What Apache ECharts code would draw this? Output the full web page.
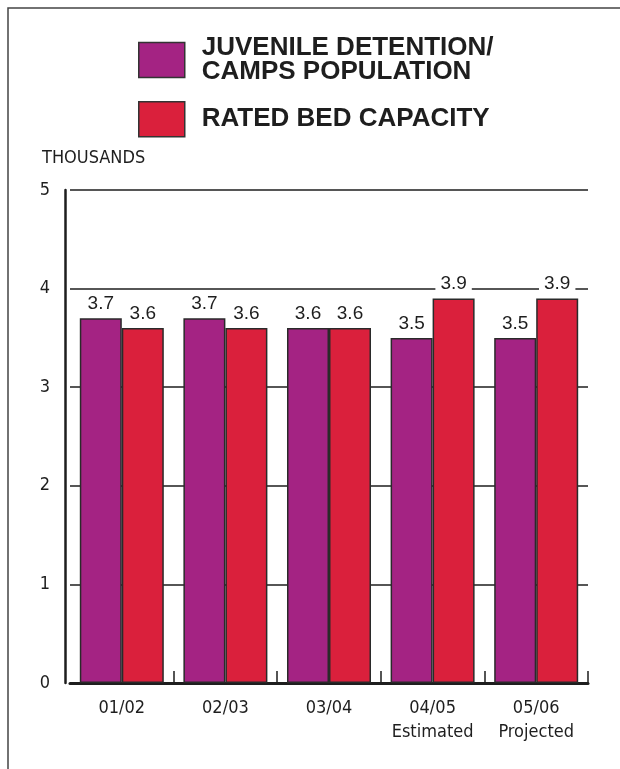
<!DOCTYPE html>
<html>
<head>
<meta charset="utf-8">
<script src="https://cdn.jsdelivr.net/npm/echarts@6/dist/echarts.min.js"></script>
<style>
  html, body { margin: 0; padding: 0; background: #fff; }
  #chart { width: 620px; height: 769px; }
</style>
</head>
<body>
<div id="chart"></div>
<script>
// Fiscal years shown along the bottom axis
const categories = ['01/02', '02/03', '03/04', '04/05\nEstimated', '05/06\nProjected'];
// Values in thousands
const population = [3.7, 3.7, 3.6, 3.5, 3.5];
const bedCapacity = [3.6, 3.6, 3.6, 3.9, 3.9];
const seriesNames = ['JUVENILE DETENTION/\nCAMPS POPULATION', 'RATED BED CAPACITY'];
const yTicks = { min: 0, max: 5, interval: 1 };

const PURPLE = '#a42383';
const RED = '#da203c';
const INK = '#1e1e1e';
const NARROW = '"Liberation Sans Narrow", "Arial Narrow", "DejaVu Sans Condensed", sans-serif';
const SANS = '"Liberation Sans", Arial, Helvetica, sans-serif';

const chart = echarts.init(document.getElementById('chart'), null, { renderer: 'canvas' });

const barLabel = {
  show: true,
  position: 'top',
  distance: 4,
  fontFamily: SANS,
  fontSize: 19,
  color: INK,
  backgroundColor: '#fff',
  padding: [1, 5]
};

chart.setOption({
  animation: false,
  backgroundColor: '#fff',
  graphic: [{
    type: 'rect',
    silent: true,
    shape: { x: 8, y: 8, width: 800, height: 900 },
    style: { fill: 'none', stroke: '#444', lineWidth: 1.5 }
  }],
  title: {
    text: 'THOUSANDS',
    left: 42,
    top: 149,
    padding: 0,
    textStyle: { fontFamily: NARROW, fontSize: 18, fontWeight: 'normal', color: INK }
  },
  legend: {
    orient: 'vertical',
    left: 138,
    top: 35,
    padding: 0,
    itemGap: 16,
    itemWidth: 46,
    itemHeight: 35,
    icon: 'rect',
    selectedMode: false,
    itemStyle: { borderColor: '#333', borderWidth: 1.5 },
    textStyle: {
      fontFamily: SANS,
      fontSize: 26,
      fontWeight: 'bold',
      lineHeight: 24,
      color: INK,
      padding: [0, 0, 0, 12]
    },
    data: seriesNames
  },
  grid: { left: 70, right: 32, top: 190, bottom: 86 },
  xAxis: {
    type: 'category',
    data: categories,
    axisLine: { lineStyle: { color: INK, width: 3 } },
    axisTick: {
      show: true,
      inside: true,
      length: 12,
      interval: (index) => index > 0,
      lineStyle: { color: INK, width: 1.5 }
    },
    axisLabel: {
      interval: 0,
      fontFamily: NARROW,
      fontSize: 18,
      lineHeight: 24,
      color: INK,
      margin: 13
    }
  },
  yAxis: {
    type: 'value',
    min: yTicks.min,
    max: yTicks.max,
    interval: yTicks.interval,
    offset: 5,
    axisLine: { show: true, lineStyle: { color: INK, width: 2.5 } },
    axisTick: { show: false },
    axisLabel: { fontFamily: NARROW, fontSize: 18, color: INK, margin: 15 },
    splitLine: { lineStyle: { color: INK, width: 1.5 } }
  },
  series: [
    {
      name: seriesNames[0],
      type: 'bar',
      data: population,
      barWidth: 42,
      barGap: '0%',
      itemStyle: { color: PURPLE, borderColor: '#2a2a2a', borderWidth: 1.5 },
      label: barLabel
    },
    {
      name: seriesNames[1],
      type: 'bar',
      data: bedCapacity,
      barWidth: 42,
      barGap: '0%',
      itemStyle: { color: RED, borderColor: '#2a2a2a', borderWidth: 1.5 },
      label: barLabel
    }
  ]
});
</script>
</body>
</html>
